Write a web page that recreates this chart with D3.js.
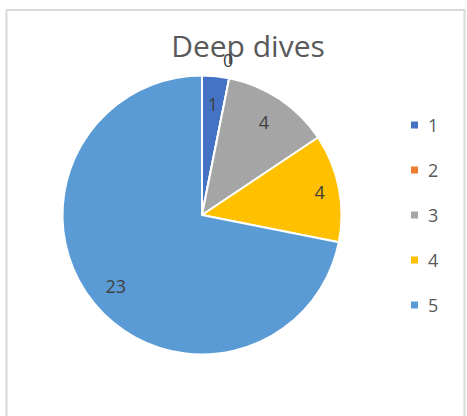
<!DOCTYPE html>
<html>
<head>
<meta charset="utf-8">
<script src="https://cdn.jsdelivr.net/npm/d3@7"></script>
<style>
  html, body { margin: 0; padding: 0; background: #fff; }
  svg { display: block; }
</style>
</head>
<body>
<svg id="chart" width="467" height="416"></svg>
<script>
// Deep dives: count per rating level
const categories = ["1", "2", "3", "4", "5"];
const values = [1, 0, 4, 4, 23];
const colors = ["#4472C4", "#ED7D31", "#A5A5A5", "#FFC000", "#5B9BD5"];
const title = "Deep dives";

const svg = d3.select("#chart");
const font = "'Open Sans', 'Noto Sans', sans-serif";

// chart frame
svg.append("rect")
  .attr("x", 6.5).attr("y", 10)
  .attr("width", 458).attr("height", 420)
  .attr("fill", "#fff")
  .attr("stroke", "#d9d9d9").attr("stroke-width", 2);

svg.append("text")
  .attr("x", 248).attr("y", 57)
  .attr("text-anchor", "middle")
  .attr("font-family", font)
  .attr("font-size", 30)
  .attr("fill", "#595959")
  .text(title);

const cx = 202, cy = 215, R = 139.5;
const data = categories.map((c, i) => ({ cat: c, value: values[i], color: colors[i] }));

const pie = d3.pie().sort(null).value(d => d.value);
const arcs = pie(data);
const arc = d3.arc().innerRadius(0).outerRadius(R);

const g = svg.append("g").attr("transform", `translate(${cx},${cy})`);

g.selectAll("path.slice")
  .data(arcs)
  .join("path")
  .attr("class", "slice")
  .attr("d", arc)
  .attr("fill", d => d.data.color)
  .attr("stroke", "#fff")
  .attr("stroke-width", 2)
  .attr("stroke-linejoin", "round");

// data labels: inside for populated slices, just outside for empty ones
const labelPos = d => {
  const r = d.data.value === 0 ? R * 1.13 : (d.index === 3 ? R * 0.86 : R * 0.8);
  const a = (d.startAngle + d.endAngle) / 2 - (d.data.value === 0 ? 0.03 : 0);
  return [Math.sin(a) * r, -Math.cos(a) * r];
};

g.selectAll("text.lbl")
  .data(arcs)
  .join("text")
  .attr("class", "lbl")
  .attr("x", d => labelPos(d)[0])
  .attr("y", d => labelPos(d)[1])
  .attr("text-anchor", "middle")
  .attr("dominant-baseline", "central")
  .attr("font-family", font)
  .attr("font-size", 18)
  .attr("fill", "#404040")
  .text(d => d.data.value);

// legend
const ly = d3.scalePoint().domain(categories).range([125, 305]);
const leg = svg.append("g");
leg.selectAll("rect")
  .data(data)
  .join("rect")
  .attr("x", 411).attr("y", d => ly(d.cat) - 3.5)
  .attr("width", 7).attr("height", 7)
  .attr("fill", d => d.color);
leg.selectAll("text")
  .data(data)
  .join("text")
  .attr("x", 428).attr("y", d => ly(d.cat))
  .attr("dominant-baseline", "central")
  .attr("font-family", font)
  .attr("font-size", 18)
  .attr("fill", "#595959")
  .text(d => d.cat);
</script>
</body>
</html>
